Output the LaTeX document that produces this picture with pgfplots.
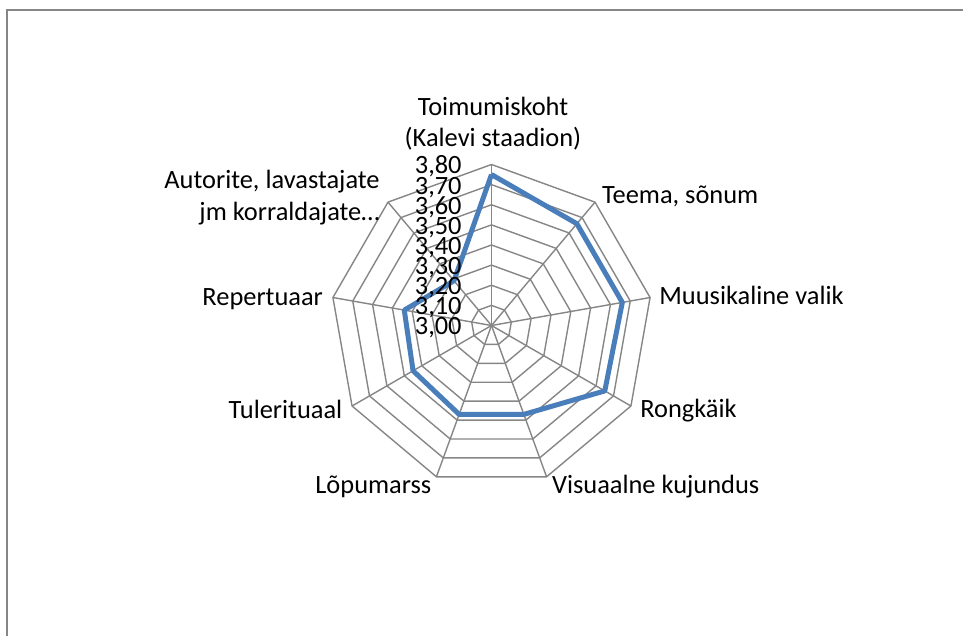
\documentclass[border=0pt]{standalone}
\usepackage{fontspec}
\setmainfont{Carlito}
\usepackage{pgfplots}
\pgfplotsset{compat=1.18}
\usepgfplotslibrary{polar}
\usepackage{pgfplotstable}
\definecolor{series}{HTML}{4A7EBB}
\definecolor{web}{HTML}{868686}

% angle (deg, clockwise from top) and mean rating
\pgfplotstableread{
a v
90 3.75
50 3.66
10 3.66
-30 3.65
-70 3.47
-110 3.47
-150 3.45
170 3.44
130 3.29
90 3.75
}\ratings

\begin{document}
\begin{tikzpicture}[font=\fontsize{13.2pt}{16pt}\selectfont]
\useasboundingbox (-245.75pt,-155.25pt) rectangle (235.75pt,162.75pt);
\draw[web, line width=0.85pt] (-242.25pt,-160pt) -- (-242.25pt,157.85pt) -- (240pt,157.85pt);
\begin{axis}[at={(0pt,0pt)}, anchor=origin, x=100.625pt, y=100.625pt,
  xmin=-0.9, xmax=0.9, ymin=-0.9, ymax=0.9, hide axis, clip=false]
\pgfplotsinvokeforeach{0.1,0.2,0.3,0.4,0.5,0.6,0.7,0.8}{
  \addplot[web, line width=0.7pt, data cs=polar, mark=none]
    coordinates {(90,#1)(50,#1)(10,#1)(-30,#1)(-70,#1)(-110,#1)(-150,#1)(170,#1)(130,#1)(90,#1)};
}
\pgfplotsinvokeforeach{90,50,10,-30,-70,-110,-150,170,130}{
  \addplot[web, line width=0.7pt, data cs=polar, mark=none] coordinates {(#1,0)(#1,0.8)};
}
\addplot[series, line width=2.5pt, line join=round, data cs=polar, mark=none]
  table[x=a, y expr=\thisrow{v}-3] {\ratings};
\end{axis}
\foreach \i in {0,...,8}
  \node[anchor=base east, inner sep=0pt] at (-14.75pt,{\i*10.0625pt-4.7pt}) {3,\i0};
\begin{scope}[every node/.style={inner sep=0pt}]
\node[anchor=base] at (0.75pt,104.75pt) {Toimumiskoht};
\node[anchor=base] at (0.75pt,89.25pt) {(Kalevi staadion)};
\node[anchor=base west] at (55.1pt,60.75pt) {Teema, sõnum};
\node[anchor=base west] at (83.75pt,10.25pt) {Muusikaline valik};
\node[anchor=base west] at (74.25pt,-46.25pt) {Rongkäik};
\node[anchor=base west] at (30.1pt,-84.25pt) {Visuaalne kujundus};
\node[anchor=base east] at (-29.9pt,-84.25pt) {Lõpumarss};
\node[anchor=base east] at (-74.4pt,-46.4pt) {Tulerituaal};
\node[anchor=base east] at (-84.1pt,9.75pt) {Repertuaar};
\node[anchor=base east] at (-55.75pt,68.6pt) {Autorite, lavastajate};
\node[anchor=base east] at (-55.75pt,52.5pt) {jm korraldajate…};
\end{scope}
\end{tikzpicture}
\end{document}
